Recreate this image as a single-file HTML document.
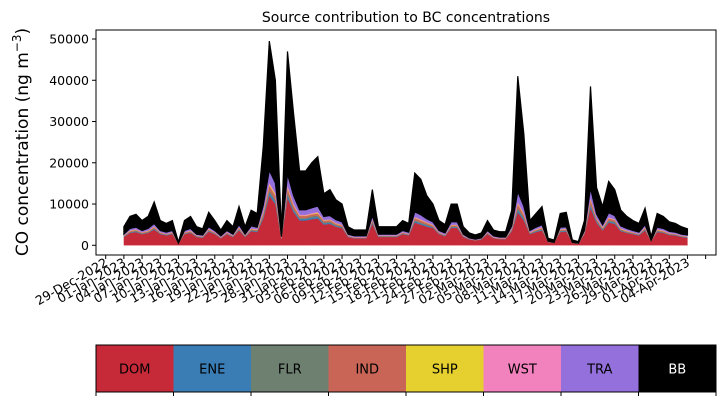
<!DOCTYPE html>
<html><head><meta charset="utf-8"><style>
body{margin:0;background:#fff;}
svg{display:block;font-family:"DejaVu Sans","Liberation Sans",sans-serif;}
</style></head><body>
<svg id="chart" width="725" height="402" viewBox="0 0 725 402" xmlns="http://www.w3.org/2000/svg">
<text x="406" y="22" text-anchor="middle" font-size="14">Source contribution to BC concentrations</text>
<text transform="translate(28,142) rotate(-90)" text-anchor="middle" font-size="17">CO concentration (ng m<tspan dy="-7" font-size="12">−3</tspan><tspan dy="7">)</tspan></text>
<g id="areas"></g>
<g id="yaxis"></g>
<g id="xaxis"></g>
<rect x="96" y="30" width="620" height="225" fill="none" stroke="#000" stroke-width="1"/>
<g id="legend"></g>
</svg>
<script>
// values in units of 100 ng m-3, one per day starting 01-Jan-2023
const sources = ["DOM","ENE","FLR","IND","SHP","WST","TRA","BB"];
const colors = ["#c62a38","#3a7db5","#6e8170","#c96556","#e5d02f","#f282be","#9370db","#000000"];
const dom=[20,30,32,27,30,38,27,24,27,4, 27,30,20,18,33,27,17,27,20,36, 20,34,32,65,120,100,16,115,80,60, 60,63,65,50,52,45,42,20,17,17, 17,52,20,20,20,20,27,24,55,50, 45,42,27,22,42,42,20,14,12,14, 27,17,15,15,34,80,60,27,32,36, 8,6,32,33,6,4,27,90,55,36, 55,52,34,30,27,24,36,10,32,30, 25,24,20,18];
const ene=[1,1,2,1,1,2,1,1,1,0, 1,1,1,1,2,1,1,1,1,2, 1,2,2,4,8,6,1,7,5,4, 4,4,4,3,3,2,2,1,1,1, 1,3,1,1,1,1,1,1,4,3, 3,2,1,1,2,2,1,1,0,1, 1,1,1,1,2,6,4,1,2,2, 0,0,2,2,0,0,1,6,3,2, 3,3,2,1,1,1,2,0,2,1, 1,1,1,1];
const flr=[1,1,1,1,1,1,1,1,1,0, 1,1,1,1,1,1,0,1,1,1, 1,1,1,3,5,4,0,5,3,2, 2,3,3,2,2,2,1,1,0,0, 0,2,1,1,1,1,1,1,2,2, 2,1,1,1,1,1,1,0,0,0, 1,0,0,0,1,4,3,1,1,1, 0,0,1,1,0,0,1,4,2,1, 2,2,1,1,1,1,1,0,1,1, 1,1,1,1];
const ind=[1,2,2,2,2,3,2,1,2,0, 2,2,1,1,2,2,1,2,1,3, 1,2,2,6,12,10,1,11,8,5, 5,5,5,4,4,3,3,1,1,1, 1,4,1,1,1,1,2,1,5,5, 4,3,2,1,3,3,1,1,1,1, 2,1,1,1,2,10,7,2,2,3, 1,0,2,2,0,0,2,10,4,3, 5,4,2,2,2,1,3,1,2,2, 2,1,1,1];
const shp=[0,1,1,0,1,1,0,0,0,0, 0,1,0,0,1,0,0,0,0,1, 0,1,1,2,3,3,0,3,2,1, 1,1,2,1,1,1,1,0,0,0, 0,1,0,0,0,0,0,0,1,1, 1,1,0,0,1,1,0,0,0,0, 0,0,0,0,1,2,2,0,1,1, 0,0,1,1,0,0,0,2,1,1, 1,1,1,1,0,0,1,0,1,1, 0,0,0,0];
const wst=[1,1,1,1,1,1,1,1,1,0, 1,1,1,1,1,1,1,1,1,1, 1,1,1,2,4,3,1,4,3,2, 2,2,2,1,1,1,1,1,1,1, 1,1,1,1,1,1,1,1,2,2, 1,1,1,1,1,1,1,0,0,0, 1,1,1,1,1,3,2,1,1,1, 0,0,1,1,0,0,1,3,1,1, 2,1,1,1,1,1,1,0,1,1, 1,1,1,1];
const tra=[3,5,5,4,5,7,4,4,4,1, 4,5,3,3,5,4,3,4,3,6, 3,6,5,15,30,25,2,28,20,12, 12,13,14,9,9,8,7,3,3,3, 3,9,3,3,3,3,4,4,12,11, 8,7,4,4,7,7,3,2,2,2, 4,3,2,2,6,25,17,4,5,6, 1,1,5,5,1,1,4,24,10,6, 11,9,6,5,4,4,6,1,5,5, 4,4,3,3];
const bb=[18,29,31,24,29,52,24,21,24,3, 24,29,18,15,35,24,14,24,18,44, 18,38,33,143,313,249,14,297,199,94, 94,109,120,55,63,48,43,18,14,14, 14,63,18,18,18,18,24,21,94,86, 56,43,24,20,43,43,18,12,10,12, 24,14,13,13,38,280,175,24,33,44, 7,6,33,35,6,4,24,246,64,44, 76,63,38,29,24,21,40,9,33,29, 23,21,18,15];
const yTicks=[0,10000,20000,30000,40000,50000];
const xTickLabels=["29-Dec-2022","01-Jan-2023","04-Jan-2023","07-Jan-2023","10-Jan-2023","13-Jan-2023","16-Jan-2023","19-Jan-2023","22-Jan-2023","25-Jan-2023","28-Jan-2023","31-Jan-2023","03-Feb-2023","06-Feb-2023","09-Feb-2023","12-Feb-2023","15-Feb-2023","18-Feb-2023","21-Feb-2023","24-Feb-2023","27-Feb-2023","02-Mar-2023","05-Mar-2023","08-Mar-2023","11-Mar-2023","14-Mar-2023","17-Mar-2023","20-Mar-2023","23-Mar-2023","26-Mar-2023","29-Mar-2023","01-Apr-2023","04-Apr-2023",""];

const NS="http://www.w3.org/2000/svg";
const series=[dom,ene,flr,ind,shp,wst,tra,bb];
// x axis: days since 29-Dec-2022
function xDay(d){return 105.7 + d*6.06;}
function xData(i){return xDay(i+3);}
function yVal(v){return 245.3 - v*(206.3/50000);}
const UNIT=100;

const areas=document.getElementById('areas');
let base=dom.map(()=>0);
series.forEach((s,k)=>{
  const top=base.map((b,i)=>b+s[i]*UNIT);
  let d="M"+xData(0)+","+yVal(top[0]);
  for(let i=1;i<top.length;i++) d+="L"+xData(i).toFixed(2)+","+yVal(top[i]).toFixed(2);
  for(let i=top.length-1;i>=0;i--) d+="L"+xData(i).toFixed(2)+","+yVal(base[i]).toFixed(2);
  d+="Z";
  const p=document.createElementNS(NS,'path');
  p.setAttribute('d',d);
  p.setAttribute('fill',colors[k]);
  p.setAttribute('stroke',colors[k]);
  p.setAttribute('stroke-width',k===7?'1.2':'0.3');
  
  
  areas.appendChild(p);
  base=top;
});

const ya=document.getElementById('yaxis');
yTicks.forEach(v=>{
  const y=yVal(v);
  const l=document.createElementNS(NS,'line');
  l.setAttribute('x1',92);l.setAttribute('x2',96);l.setAttribute('y1',y);l.setAttribute('y2',y);l.setAttribute('stroke','#000');
  
  
  ya.appendChild(l);
  const t=document.createElementNS(NS,'text');
  t.setAttribute('x',89);t.setAttribute('y',y+4.5);t.setAttribute('text-anchor','end');t.setAttribute('font-size','12.5');
  t.textContent=v;
  
  
  ya.appendChild(t);
});

const xa=document.getElementById('xaxis');
xTickLabels.forEach((lab,j)=>{
  const x=xDay(j*3);
  const l=document.createElementNS(NS,'line');
  l.setAttribute('x1',x);l.setAttribute('x2',x);l.setAttribute('y1',255);l.setAttribute('y2',259);l.setAttribute('stroke','#000');
  
  
  xa.appendChild(l);
  if(lab){
    const t=document.createElementNS(NS,'text');
    t.setAttribute('transform','translate('+(x+3)+',265) rotate(-30)');
    t.setAttribute('text-anchor','end');t.setAttribute('font-size','12.5');
    t.textContent=lab;
    
    
    xa.appendChild(t);
  }
});

const lg=document.getElementById('legend');
const lx=96,lw=620,ly=345,lh=47,sw=lw/sources.length;
sources.forEach((s,k)=>{
  const r=document.createElementNS(NS,'rect');
  r.setAttribute('x',lx+k*sw);r.setAttribute('y',ly);r.setAttribute('width',sw+0.5);r.setAttribute('height',lh);r.setAttribute('fill',colors[k]);
  
  
  lg.appendChild(r);
  const t=document.createElementNS(NS,'text');
  t.setAttribute('x',lx+k*sw+sw/2);t.setAttribute('y',ly+lh/2+5);t.setAttribute('text-anchor','middle');t.setAttribute('font-size','13');
  t.setAttribute('fill',k===7?'#fff':'#000');
  t.textContent=s;
  
  
  lg.appendChild(t);
});
for(let k=0;k<=sources.length;k++){
  const x=lx+k*sw;
  const l=document.createElementNS(NS,'line');
  l.setAttribute('x1',x);l.setAttribute('x2',x);l.setAttribute('y1',ly+lh);l.setAttribute('y2',ly+lh+4);l.setAttribute('stroke','#000');
  
  
  lg.appendChild(l);
}
const fr=document.createElementNS(NS,'rect');
fr.setAttribute('x',lx);fr.setAttribute('y',ly);fr.setAttribute('width',lw);fr.setAttribute('height',lh);fr.setAttribute('fill','none');fr.setAttribute('stroke','#000');


lg.appendChild(fr);
</script>
</body></html>
